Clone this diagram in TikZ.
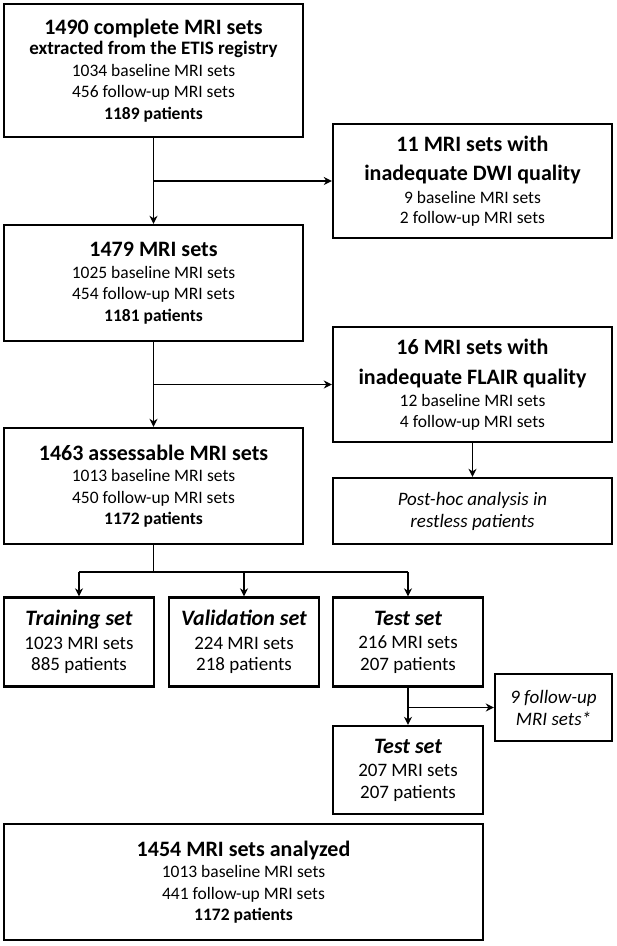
\documentclass[tikz,border=0pt]{standalone}
\usepackage{fontspec}
\setmainfont{Carlito}
\usetikzlibrary{arrows.meta}

\newcommand{\ttl}[1]{{\fontsize{22}{24}\selectfont\bfseries #1}}

\begin{document}
\begin{tikzpicture}[x=1pt,y=-1pt]

% Define styles
\tikzstyle{box}=[draw, line width=2.4pt, rectangle, align=center, inner sep=0pt, font=\fontsize{17.5}{21.5}\selectfont]
\tikzstyle{wide}=[box, minimum width=299pt]
\tikzstyle{side}=[box, minimum width=279pt]
\tikzstyle{part}=[box, minimum width=150pt, minimum height=89pt, font=\fontsize{19}{21.5}\selectfont]
\tikzstyle{arrow}=[line width=1.4pt, -{Stealth[length=8pt,width=8pt]}]
\tikzstyle{line}=[line width=1.4pt]

% Parameters
\def\colL{153.5}
\def\colR{472.5}

\useasboundingbox (0,0) rectangle (617,946);

% Left column
\node[wide, minimum height=133pt] (extract) at (\colL,70.5) {\ttl{1490 complete MRI sets}\\[-1pt]
  {\fontsize{19}{22}\selectfont\bfseries extracted from the ETIS registry}\\
  1034 baseline MRI sets\\ 456 follow-up MRI sets\\ \textbf{1189 patients}};
\node[wide, minimum height=116pt] (mri) at (\colL,283) {\ttl{1479 MRI sets}\\
  1025 baseline MRI sets\\ 454 follow-up MRI sets\\ \textbf{1181 patients}};
\node[wide, minimum height=116pt] (assess) at (\colL,486) {\ttl{1463 assessable MRI sets}\\
  1013 baseline MRI sets\\ 450 follow-up MRI sets\\ \textbf{1172 patients}};

% Exclusions
\node[side, minimum height=114pt] (dwi) at (\colR,181) {\ttl{11 MRI sets with}\\[8pt]
  \ttl{inadequate DWI quality}\\[1pt] 9 baseline MRI sets\\[-1pt] 2 follow-up MRI sets};
\node[side, minimum height=115pt] (flair) at (\colR,384.5) {\ttl{16 MRI sets with}\\[8pt]
  \ttl{inadequate FLAIR quality}\\[1pt] 12 baseline MRI sets\\[-1pt] 4 follow-up MRI sets};
\node[side, minimum height=66pt, font=\fontsize{19}{22}\selectfont\itshape] (posthoc) at (\colR,511)
  {Post-hoc analysis in\\ restless patients};

% Data split
\node[part] (training) at (79,642) {\ttl{\itshape Training set}\\[2pt] 1023 MRI sets\\ 885 patients};
\node[part] (validation) at (244,642) {\ttl{\itshape Validation set}\\[2pt] 224 MRI sets\\ 218 patients};
\node[part] (test) at (408,642) {\ttl{\itshape Test set}\\[2pt] 216 MRI sets\\ 207 patients};
\node[box, minimum width=117pt, minimum height=67pt, font=\fontsize{19}{22}\selectfont\itshape] (followup)
  at (553.5,707.5) {9 follow-up\\ MRI sets*};
\node[part, minimum height=88pt] (test2) at (408,770) {\ttl{\itshape Test set}\\[2pt] 207 MRI sets\\ 207 patients};

% Final
\node[box, minimum width=479pt, minimum height=116pt] (final) at (243.5,882) {\ttl{1454 MRI sets analyzed}\\
  1013 baseline MRI sets\\ 441 follow-up MRI sets\\ \textbf{1172 patients}};

% Connectors
\draw[arrow] (extract) -- (mri);
\draw[arrow] (extract.south |- dwi.west) -- (dwi.west);
\draw[arrow] (mri) -- (assess);
\draw[arrow] (mri.south |- flair.west) -- (flair.west);
\draw[arrow] (flair) -- (posthoc);

\coordinate (split) at (153.5,572);
\draw[line] (assess.south) -- (split);
\draw[line] (split -| training.north) -- (split -| test.north);
\foreach \n in {training, validation, test} {
  \draw[arrow] (split -| \n.north) -- (\n.north);
}

\draw[arrow] (test) -- (test2);
\draw[arrow] (test.south |- followup.west) -- (followup.west);

\end{tikzpicture}
\end{document}
